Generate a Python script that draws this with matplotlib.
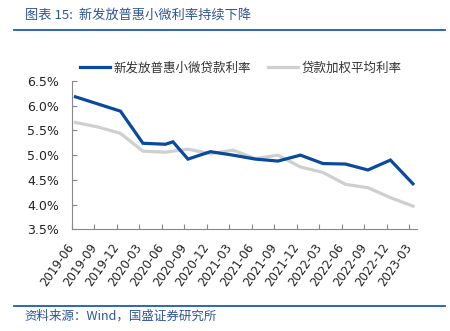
import matplotlib
matplotlib.use('Agg')
import matplotlib.pyplot as plt
from matplotlib.lines import Line2D
from matplotlib.transforms import ScaledTranslation

# 新发放普惠小微贷款利率 (%)
blue_dates = ['2019-06', '2019-12', '2020-03', '2020-06', '2020-07', '2020-09',
              '2020-12', '2021-03', '2021-06', '2021-09', '2021-12', '2022-03',
              '2022-06', '2022-09', '2022-12', '2023-03']
blue_vals = [6.18, 5.89, 5.24, 5.22, 5.27, 4.92, 5.07, 5.00, 4.92, 4.88, 5.00,
             4.83, 4.82, 4.70, 4.90, 4.42]

# 贷款加权平均利率 (%)
grey_dates = ['2019-06', '2019-09', '2019-12', '2020-03', '2020-06', '2020-09',
              '2020-12', '2021-03', '2021-06', '2021-09', '2021-12', '2022-03',
              '2022-06', '2022-09', '2022-12', '2023-03']
grey_vals = [5.66, 5.57, 5.44, 5.08, 5.06, 5.12, 5.03, 5.10, 4.93, 5.00, 4.76,
             4.65, 4.41, 4.34, 4.14, 3.97]

tick_labels = grey_dates
y_ticks = [3.5, 4.0, 4.5, 5.0, 5.5, 6.0, 6.5]

BLUE = '#0A4A9E'
GREY = '#CFCFCF'
TXT_BLUE = '#2F5597'
CJK = ['Noto Sans CJK SC', 'DejaVu Sans']


def month_pos(s):
    # months after 2019-06, point sits in the middle of its month
    y, m = s.split('-')
    return (int(y) - 2019) * 12 + int(m) - 6


fig = plt.figure(figsize=(4.5, 3.31), dpi=100)
ax = fig.add_axes([0.1593, 0.3073, 0.7667, 0.448])

ax.plot([month_pos(d) + 0.5 for d in blue_dates], blue_vals, color=BLUE, lw=2.3,
        label='新发放普惠小微贷款利率', solid_joinstyle='miter', zorder=3)
ax.plot([month_pos(d) + 0.5 for d in grey_dates], grey_vals, color=GREY, lw=2.3,
        label='贷款加权平均利率', zorder=2)

ax.set_xlim(0, month_pos(tick_labels[-1]) + 1)
ax.set_ylim(3.5, 6.5)
ax.set_yticks(y_ticks)
ax.set_yticklabels(['%.1f%%' % v for v in y_ticks], fontsize=9, color='#222222')
ax.set_xticks([month_pos(d) for d in tick_labels])
ax.set_xticklabels(tick_labels, fontsize=8.5, color='#222222', rotation=55,
                   ha='right', va='center', rotation_mode='anchor')
offset = ScaledTranslation(5.5 / 100, 0, fig.dpi_scale_trans)
for lab in ax.get_xticklabels():
    lab.set_transform(lab.get_transform() + offset)

ax.tick_params(axis='both', direction='in', length=3.5, width=0.8, color='#888888')
ax.tick_params(axis='y', pad=9)
ax.tick_params(axis='x', pad=11)
for side in ['top', 'right']:
    ax.spines[side].set_visible(False)
for side in ['left', 'bottom']:
    ax.spines[side].set_color('#888888')
    ax.spines[side].set_linewidth(0.8)

leg = fig.legend(loc='center', bbox_to_anchor=(0.535, 0.795), ncol=2, frameon=False,
                 prop={'family': CJK, 'size': 9}, handlelength=2.4, handletextpad=0.3,
                 columnspacing=1.4)
for t in leg.get_texts():
    t.set_color('#333333')

fig.text(0.055, 0.953, '图表 15:  新发放普惠小微利率持续下降', family=CJK, fontsize=9.5,
         color=TXT_BLUE, style='italic', va='center')
fig.add_artist(Line2D([0.031, 0.989], [0.909, 0.909], color='#1F5BAA', lw=1.3))
fig.add_artist(Line2D([0.031, 0.989], [0.076, 0.076], color='#1F5BAA', lw=1.3))
fig.text(0.055, 0.046, '资料来源：Wind，国盛证券研究所', family=CJK, fontsize=9,
         color=TXT_BLUE, style='italic', va='center')

fig.savefig('out.png', dpi=100)
